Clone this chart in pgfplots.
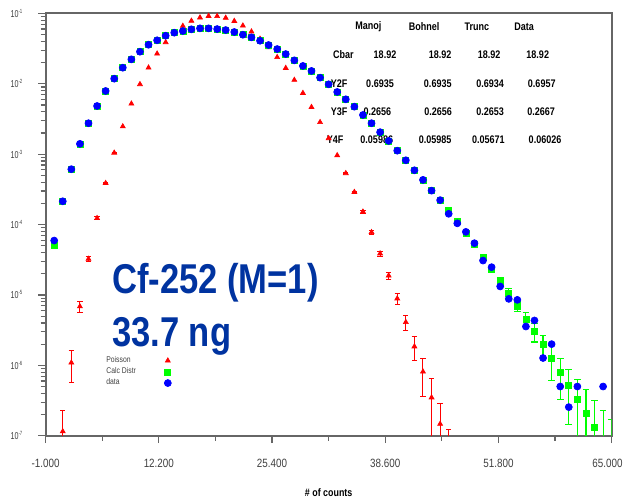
\documentclass[border=0pt]{standalone}
\usepackage{pgfplots}
\pgfplotsset{compat=1.18}
\usepackage{pgfplotstable}
\usepackage{graphicx}
\usepackage{fontspec}
\setmainfont{Liberation Sans}

\definecolor{bigblue}{RGB}{0,51,160}
\newcommand{\sq}[1]{\scalebox{0.82}[1]{#1}}
\newcommand{\yl}[1]{\scalebox{0.72}[1]{10\raisebox{2.4pt}{\fontsize{3.6}{4}\selectfont #1}}}

% Poisson, centre part (no visible error bars)
\pgfplotstableread{
x y
8 2.47e-3
9 5.20e-3
10 9.83e-3
11 0.0169
12 0.0267
13 0.0388
14 0.0524
15 0.0661
16 0.0782
17 0.0870
18 0.0915
19 0.0911
20 0.0862
21 0.0777
22 0.0668
23 0.0550
24 0.0433
25 0.0328
26 0.0238
27 0.0167
28 0.0113
29 7.37e-3
30 4.65e-3
31 2.84e-3
32 1.68e-3
33 9.61e-4
}\redmid

% Poisson, tails with error bars
\pgfplotstableread{
x y ep em
1 1.15e-7 1.1e-7 1.1e-7
2 1.09e-6 5.2e-7 5.2e-7
3 6.85e-6 1.31e-6 1.31e-6
4 3.24e-5 2.85e-6 2.85e-6
5 1.23e-4 5.55e-6 5.55e-6
6 3.87e-4 9.8e-6 9.8e-6
7 1.045e-3 1.62e-5 1.62e-5
34 5.35e-4 1.16e-5 1.16e-5
35 2.89e-4 8.5e-6 8.5e-6
36 1.52e-4 6.2e-6 6.2e-6
37 7.77e-5 4.4e-6 4.4e-6
38 3.87e-5 3.11e-6 3.11e-6
39 1.88e-5 2.17e-6 2.17e-6
40 8.88e-6 1.49e-6 1.49e-6
41 4.10e-6 1.01e-6 1.01e-6
42 1.85e-6 6.8e-7 6.8e-7
43 8.12e-7 4.5e-7 4.5e-7
44 3.49e-7 2.95e-7 2.95e-7
45 1.47e-7 1.44e-7 1.44e-7
46 6.04e-8 6.1e-8 6.0e-8
}\redtail

% calculated distribution
\pgfplotstableread{
x y
0 5.14e-5
1 2.14e-4
2 6.11e-4
3 1.40e-3
4 2.75e-3
5 4.83e-3
6 7.89e-3
7 0.0118
8 0.0169
9 0.0222
10 0.0285
11 0.0358
12 0.0414
13 0.0481
14 0.0531
15 0.0561
16 0.0593
17 0.0612
18 0.0612
19 0.0598
20 0.0579
21 0.0543
22 0.0497
23 0.0456
24 0.0408
25 0.0355
26 0.0311
27 0.0264
28 0.0215
29 0.0179
30 0.0152
31 0.0122
32 9.82e-3
33 7.64e-3
34 6.01e-3
35 4.72e-3
36 3.6e-3
37 2.75e-3
38 2.05e-3
39 1.54e-3
40 1.12e-3
41 8.18e-4
42 5.90e-4
43 4.31e-4
44 3.02e-4
45 2.19e-4
46 1.58e-4
47 1.10e-4
48 7.59e-5
49 5.25e-5
50 3.47e-5
51 2.29e-5
}\calcmain

\pgfplotstableread{
x y ep em
52 1.55e-5 1.97e-6 1.97e-6
53 1.06e-5 1.63e-6 1.63e-6
54 6.84e-6 1.1e-6 1.1e-6
55 4.57e-6 1.0e-6 1.0e-6
56 3.02e-6 8.7e-7 8.7e-7
57 1.96e-6 7.0e-7 7.0e-7
58 1.26e-6 6.5e-7 6.5e-7
59 7.94e-7 4.7e-7 4.7e-7
60 5.13e-7 3.7e-7 3.7e-7
61 3.24e-7 3.1e-7 3.1e-7
62 2.10e-7 2.4e-7 2.08e-7
63 1.31e-7 1.86e-7 1.30e-7
64 8.3e-8 1.46e-7 8.2e-8
65 5.25e-8 1.17e-7 5.2e-8
}\calctail

% measured data
\pgfplotstableread{
x y
0 5.92e-5
1 2.14e-4
2 6.11e-4
3 1.40e-3
4 2.75e-3
5 4.83e-3
6 7.89e-3
7 0.0118
8 0.0169
9 0.0222
10 0.0285
11 0.0358
12 0.0414
13 0.0481
14 0.0531
15 0.0561
16 0.0593
17 0.0612
18 0.0612
19 0.0598
20 0.0579
21 0.0543
22 0.0497
23 0.0456
24 0.0408
25 0.0355
26 0.0311
27 0.0264
28 0.0215
29 0.0179
30 0.0152
31 0.0122
32 9.82e-3
33 7.64e-3
34 6.01e-3
35 4.72e-3
36 3.6e-3
37 2.75e-3
38 2.05e-3
39 1.54e-3
40 1.12e-3
41 8.18e-4
42 5.90e-4
43 4.31e-4
44 3.03e-4
45 2.22e-4
46 1.42e-4
47 1.04e-4
48 7.87e-5
49 5.43e-5
50 3.08e-5
51 2.48e-5
52 1.32e-5
53 8.79e-6
54 8.51e-6
55 3.56e-6
56 4.34e-6
57 1.27e-6
58 2.0e-6
59 5.0e-7
60 2.55e-7
61 5.0e-7
64 5.0e-7
}\data

\begin{document}
\begin{tikzpicture}
\begin{axis}[
  scale only axis, width=339.6pt, height=253.4pt,
  xmin=-1, xmax=65, ymode=log, ymin=1e-7, ymax=1e-1,
  xtick={-1,12.2,25.4,38.6,51.8,65},
  xticklabels={\sq{-1.000},\sq{12.200},\sq{25.400},\sq{38.600},\sq{51.800},{\hspace*{-5pt}\sq{65.000}}},
  minor xtick={5.6,18.8,32,45.2,58.4},
  ytick={1e-7,1e-6,1e-5,1e-4,1e-3,1e-2,1e-1},
  yticklabels={{\yl{-7}},{\yl{-6}},{\yl{-5}},{\yl{-4}},{\yl{-3}},{\yl{-2}},{\yl{-1}}},
  minor ytick={2e-7,3e-7,4e-7,5e-7,6e-7,7e-7,8e-7,9e-7,
    2e-6,3e-6,4e-6,5e-6,6e-6,7e-6,8e-6,9e-6,
    2e-5,3e-5,4e-5,5e-5,6e-5,7e-5,8e-5,9e-5,
    2e-4,3e-4,4e-4,5e-4,6e-4,7e-4,8e-4,9e-4,
    2e-3,3e-3,4e-3,5e-3,6e-3,7e-3,8e-3,9e-3,
    2e-2,3e-2,4e-2,5e-2,6e-2,7e-2,8e-2,9e-2},
  tick pos=left, tick align=outside,
  major tick length=4.5pt, minor tick length=3pt,
  tick style={black!60, line width=0.7pt},
  axis line style={black!60, line width=1.2pt},
  xticklabel style={font=\fontsize{7.2}{8}\selectfont, text=black!75, anchor=center, yshift=-11.8pt},
  yticklabel style={font=\fontsize{6}{7}\selectfont, text=black!75, anchor=center, xshift=-13pt},
  xlabel={\sq{\textbf{\# of counts}}},
  every axis x label/.style={at={(rel axis cs:0.5,0)}, anchor=center, yshift=-34.4pt, font=\fontsize{6.5}{7}\selectfont},
  legend style={at={(0.105,0.191)}, anchor=north west, draw=none, fill=none,
    font=\fontsize{5}{6}\selectfont, text=black!75, row sep=0.4pt, column sep=16.4pt,
    inner sep=0pt, nodes={inner sep=0.6pt}},
  legend cell align=left, legend plot pos=right,
]
\addplot[only marks, mark=triangle*, mark size=1.7pt, color=red] table[x=x,y=y] {\redmid};
\addlegendentry{\sq{Poisson}}
\addplot[only marks, mark=triangle*, mark size=1.7pt, color=red, forget plot,
  error bars/.cd, y dir=both, y explicit,
  error bar style={red, line width=0.6pt},
  error mark options={rotate=90, red, mark size=1.6pt, line width=0.6pt}]
  table[x=x, y=y, y error plus=ep, y error minus=em] {\redtail};

\addplot[only marks, mark=square*, mark size=1.8pt, color=green] table[x=x,y=y] {\calcmain};
\addlegendentry{\sq{Calc Distr}}
\addplot[only marks, mark=square*, mark size=1.8pt, color=green, forget plot,
  error bars/.cd, y dir=both, y explicit,
  error bar style={green, line width=0.7pt},
  error mark options={rotate=90, green, mark size=2pt, line width=0.7pt}]
  table[x=x, y=y, y error plus=ep, y error minus=em] {\calctail};

\addplot[only marks, mark=*, mark size=2.1pt, color=blue] table[x=x,y=y] {\data};
\addlegendentry{\sq{data}}

% summary table
\begin{scope}[every node/.style={inner sep=0pt, anchor=center, font=\fontsize{6.6}{7}\selectfont\bfseries}]
\node at (rel axis cs:0.5701,0.9683) {\sq{Manoj}};
\node at (rel axis cs:0.6686,0.9683) {\sq{Bohnel}};
\node at (rel axis cs:0.7617,0.9683) {\sq{Trunc}};
\node at (rel axis cs:0.8452,0.9683) {\sq{Data}};
\node at (rel axis cs:0.5260,0.9013) {\sq{Cbar}};
\node at (rel axis cs:0.5996,0.9013) {\sq{18.92}};
\node at (rel axis cs:0.6968,0.9013) {\sq{18.92}};
\node at (rel axis cs:0.7834,0.9013) {\sq{18.92}};
\node at (rel axis cs:0.8694,0.9013) {\sq{18.92}};
\node at (rel axis cs:0.5184,0.8343) {\sq{Y2F}};
\node at (rel axis cs:0.5908,0.8343) {\sq{0.6935}};
\node at (rel axis cs:0.6928,0.8343) {\sq{0.6935}};
\node at (rel axis cs:0.7852,0.8343) {\sq{0.6934}};
\node at (rel axis cs:0.8765,0.8343) {\sq{0.6957}};
\node at (rel axis cs:0.5184,0.7671) {\sq{Y3F}};
\node at (rel axis cs:0.5860,0.7671) {\sq{0.2656}};
\node at (rel axis cs:0.6933,0.7671) {\sq{0.2656}};
\node at (rel axis cs:0.7852,0.7671) {\sq{0.2653}};
\node at (rel axis cs:0.8753,0.7671) {\sq{0.2667}};
\node at (rel axis cs:0.5113,0.7001) {\sq{Y4F}};
\node at (rel axis cs:0.5850,0.7001) {\sq{0.05986}};
\node at (rel axis cs:0.6880,0.7001) {\sq{0.05985}};
\node at (rel axis cs:0.7822,0.7001) {\sq{0.05671}};
\node at (rel axis cs:0.8823,0.7001) {\sq{0.06026}};
\end{scope}

\node[anchor=base west, inner sep=0pt, text=bigblue, font=\fontsize{25}{28}\selectfont\bfseries]
  at (rel axis cs:0.1168,0.3371) {\scalebox{0.83}[1]{Cf-252 (M=1)}};
\node[anchor=base west, inner sep=0pt, text=bigblue, font=\fontsize{25}{28}\selectfont\bfseries]
  at (rel axis cs:0.1168,0.2107) {\scalebox{0.83}[1]{33.7 ng}};
\end{axis}
\pgfresetboundingbox
\path ([shift={(-27.36pt,-38pt)}]current axis.south west) rectangle ([shift={(6.8pt,8pt)}]current axis.north east);
\end{tikzpicture}
\end{document}
